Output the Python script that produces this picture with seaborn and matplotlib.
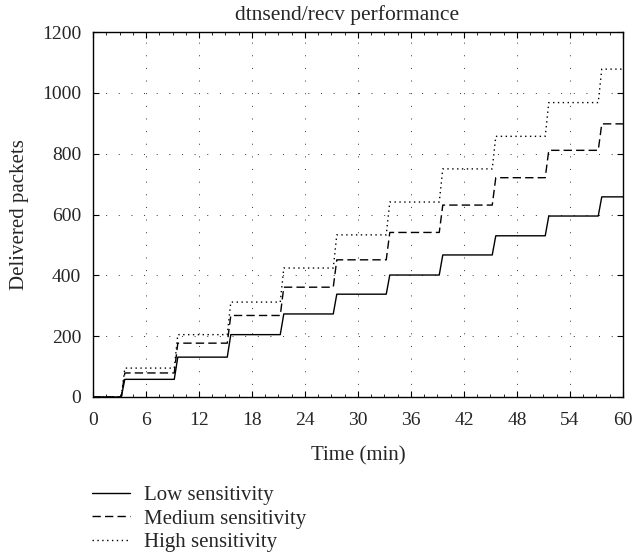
import matplotlib
matplotlib.use("Agg")
import matplotlib.pyplot as plt
import seaborn as sns
import pandas as pd
from matplotlib.ticker import MultipleLocator

# --- data ---
time_min = [0, 3.2, 3.6, 9.2, 9.6, 15.2, 15.6, 21.2, 21.6, 27.2, 27.6,
            33.2, 33.6, 39.2, 39.6, 45.2, 45.6, 51.2, 51.6, 57.2, 57.6, 60]
low_sens = [0, 0, 58, 58, 131, 131, 205, 205, 273, 273, 338, 338, 401, 401,
            467, 467, 530, 530, 595, 595, 658, 658]
medium_sens = [0, 0, 79, 79, 177, 177, 268, 268, 361, 361, 451, 451, 541, 541,
               631, 631, 721, 721, 811, 811, 898, 898]
high_sens = [0, 0, 95, 95, 205, 205, 312, 312, 424, 424, 533, 533, 641, 641,
             750, 750, 857, 857, 968, 968, 1078, 1078]
series_names = ["Low sensitivity", "Medium sensitivity", "High sensitivity"]
x_ticks = [0, 6, 12, 18, 24, 30, 36, 42, 48, 54, 60]
y_ticks = [0, 200, 400, 600, 800, 1000, 1200]

df = pd.concat([
    pd.DataFrame({"time": time_min, "packets": vals, "series": name})
    for name, vals in zip(series_names, [low_sens, medium_sens, high_sens])
], ignore_index=True)

sns.set_style("ticks")
plt.rcParams["font.family"] = ["Liberation Serif", "DejaVu Serif"]
FS = 15
TICK_FS = 14

fig = plt.figure(figsize=(6.34, 5.56), dpi=100)
ax = fig.add_axes([0.1467, 0.286, 0.8359, 0.6564])

sns.lineplot(data=df, x="time", y="packets", style="series", color="black",
             dashes={"Low sensitivity": "", "Medium sensitivity": (6, 3),
                     "High sensitivity": (1, 2.5)},
             linewidth=1.0, ax=ax, sort=False, estimator=None)

ax.set_xlim(0, 60)
ax.set_ylim(0, 1200)
ax.set_xticks(x_ticks)
ax.set_yticks(y_ticks)
ax.xaxis.set_minor_locator(MultipleLocator(1.5))
ax.tick_params(axis="both", which="both", direction="in", top=True, right=True,
               labelsize=TICK_FS, color="black")
ax.tick_params(which="major", length=4)
ax.tick_params(which="minor", length=2.5)
ax.tick_params(axis="y", which="minor", left=False, right=False)
ax.tick_params(axis="y", which="major", pad=8.5)
ax.tick_params(axis="x", which="major", pad=11)
ax.grid(True, which="major", linestyle=(0, (1, 12)), color="#333333", linewidth=0.7)
for s in ax.spines.values():
    s.set_color("black")
    s.set_linewidth(1.0)

ax.set_title("dtnsend/recv performance", fontsize=15.5, pad=9, x=0.48)
ax.set_xlabel("Time (min)", fontsize=FS, labelpad=12.5)
ax.set_ylabel("Delivered packets", fontsize=FS, labelpad=9)

handles, labels = ax.get_legend_handles_labels()
ax.get_legend().remove()
fig.legend(handles, labels, loc="upper left", bbox_to_anchor=(0.145, 0.127),
           frameon=False, fontsize=FS, handlelength=1.83, handletextpad=0.65,
           labelspacing=0.2, borderpad=0, borderaxespad=0)

fig.savefig("out.png", dpi=100)
